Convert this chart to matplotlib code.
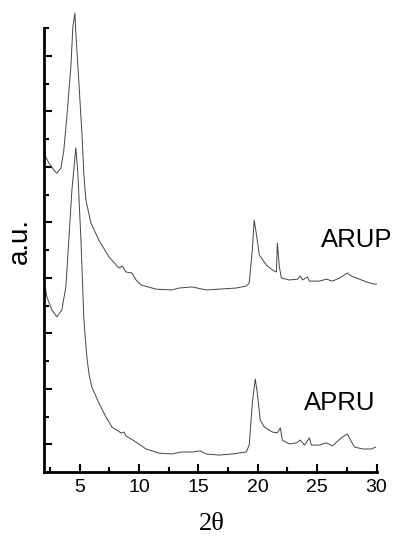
import matplotlib
matplotlib.use("Agg")
import matplotlib.pyplot as plt
from matplotlib.ticker import FixedLocator

# ---- data (2theta in degrees, intensity in arbitrary units) ----
arup_2theta = [2.00, 2.15, 2.41, 2.83, 3.08, 3.42, 3.67, 3.92, 4.26, 4.43, 4.60, 4.68,
               4.94, 5.19, 5.36, 5.53, 5.95, 6.62, 7.47, 8.31, 8.57, 8.65, 8.90, 9.41, 9.75,
               10.17, 11.44, 12.78, 13.38, 14.47, 15.66, 16.75, 18.19, 19.03, 19.28,
               19.54, 19.70, 19.87, 20.13, 20.72, 21.23, 21.57, 21.65, 21.82, 21.99,
               22.66, 23.34, 23.59, 23.76, 24.18, 24.35, 25.19, 25.78, 26.29, 26.88,
               27.30, 27.55, 27.89, 28.31, 29.16, 29.83, 30.00]
arup_int = [11.57, 11.35, 11.14, 10.88, 10.77, 10.95, 11.60, 12.79, 14.59, 16.04, 16.54, 15.82,
            14.02, 12.22, 10.70, 9.80, 8.97, 8.36, 7.75, 7.35, 7.42, 7.39, 7.21, 7.17, 6.92,
            6.74, 6.59, 6.56, 6.63, 6.67, 6.56, 6.59, 6.63, 6.70, 6.81,
            8.00, 9.08, 8.61, 7.82, 7.46, 7.28, 7.21, 8.25, 7.39, 6.99,
            6.92, 6.95, 7.06, 6.92, 7.03, 6.88, 6.88, 6.95, 6.88, 6.99,
            7.10, 7.17, 7.06, 6.99, 6.85, 6.77, 6.77]

apru_2theta = [2.00, 2.24, 2.66, 3.08, 3.50, 3.84, 4.09, 4.35, 4.68, 4.85, 5.11, 5.36,
               5.61, 5.80, 6.03, 6.62, 7.22, 7.72, 8.48, 8.73, 8.90, 9.16, 9.75, 10.59, 11.69,
               12.78, 13.55, 14.47, 15.15, 15.66, 16.75, 17.86, 19.03, 19.28, 19.54,
               19.79, 19.96, 20.21, 20.55, 21.23, 21.65, 21.90, 22.07, 22.66, 23.25,
               23.59, 23.93, 24.35, 24.52, 25.19, 25.78, 26.29, 26.63, 27.13, 27.55,
               27.81, 28.15, 28.82, 29.58, 29.92]
apru_int = [6.92, 6.31, 5.84, 5.59, 5.84, 6.67, 8.36, 10.16, 11.68, 10.77, 8.36, 5.48,
            4.14, 3.50, 3.06, 2.49, 1.98, 1.62, 1.41, 1.44, 1.30, 1.23, 1.08, 0.83, 0.68,
            0.65, 0.72, 0.72, 0.76, 0.65, 0.61, 0.65, 0.72, 0.97, 2.49,
            3.35, 2.85, 1.87, 1.62, 1.44, 1.41, 1.59, 1.15, 1.01, 1.05,
            1.15, 0.97, 1.23, 0.97, 0.97, 1.05, 0.94, 1.08, 1.26, 1.37,
            1.15, 0.90, 0.83, 0.83, 0.90]

series_labels = ["ARUP", "APRU"]
x_ticks = [5, 10, 15, 20, 25, 30]
x_minor_ticks = [2.5, 7.5, 12.5, 17.5, 22.5, 27.5]

# ---- figure ----
fig = plt.figure(figsize=(3.95, 5.36), dpi=100)
ax = fig.add_axes([0.1114, 0.1194, 0.8418, 0.8806])

line_kw = dict(color="#444444", lw=0.7, clip_on=False)
ax.plot(arup_2theta, arup_int, **line_kw)
ax.plot(apru_2theta, apru_int, **line_kw)

ax.set_xlim(2, 30)
ax.set_ylim(0, 17.01)

for s in ["top", "right"]:
    ax.spines[s].set_visible(False)
ax.spines["left"].set_bounds(0, 16)
ax.spines["left"].set_linewidth(2)
ax.spines["bottom"].set_linewidth(2)

ax.xaxis.set_major_locator(FixedLocator(x_ticks))
ax.xaxis.set_minor_locator(FixedLocator(x_minor_ticks))
ax.yaxis.set_major_locator(FixedLocator(list(range(1, 16, 2))))
ax.yaxis.set_minor_locator(FixedLocator(list(range(0, 17, 2))))

ax.tick_params(axis="x", which="major", direction="in", length=6, width=1.5,
               labelsize=14, pad=5)
ax.tick_params(axis="x", which="minor", direction="in", length=3.5, width=1.5)
ax.tick_params(axis="y", which="major", direction="in", length=6, width=1.5,
               labelleft=False)
ax.tick_params(axis="y", which="minor", direction="in", length=3.5, width=1.5)
for lab in ax.get_xticklabels():
    lab.set_fontfamily("Liberation Sans")

ax.text(25.35, 8.36, series_labels[0], fontsize=18.5, family="Liberation Sans",
        ha="left", va="center", clip_on=False)
ax.text(23.85, 2.49, series_labels[1], fontsize=18.5, family="Liberation Sans",
        ha="left", va="center", clip_on=False)

fig.text(20 / 395, 1 - 241 / 536, "a.u.", rotation=90, fontsize=20,
         family="Liberation Sans", ha="center", va="center")
fig.text(212 / 395, 1 - 524 / 536, "2θ", fontsize=19, family="Liberation Serif",
         ha="center", va="center")

fig.savefig("out.png", dpi=100)
